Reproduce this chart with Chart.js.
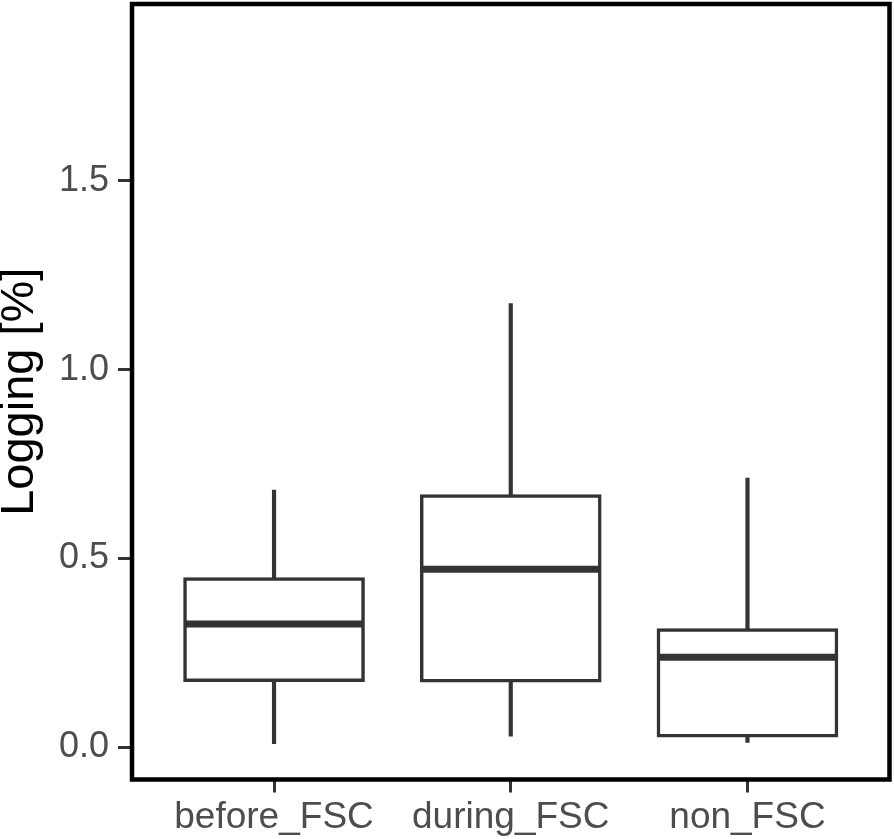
<!DOCTYPE html>
<html>
<head>
<meta charset="utf-8">
<script src="https://cdn.jsdelivr.net/npm/chart.js@4.4.1/dist/chart.umd.min.js"></script>
<style>
  body { margin: 0; background: #fff; }
  canvas { display: block; }
</style>
</head>
<body>
<canvas id="boxChart" width="894" height="839"></canvas>
<script>
// box plot stats
const categories = ['before_FSC', 'during_FSC', 'non_FSC'];
const whiskerLow = [0.009, 0.029, 0.012];
const q1 = [0.173, 0.172, 0.026];
const median = [0.326, 0.471, 0.238];
const q3 = [0.449, 0.669, 0.314];
const whiskerHigh = [0.681, 1.175, 0.713];
const yTicks = [0, 0.5, 1.0, 1.5];

const INK = '#333333';

// median bar + panel frame
const boxExtras = {
    id: 'boxExtras',
    afterDatasetsDraw(chart) {
        const ctx = chart.ctx;
        const yScale = chart.scales.y;
        const meta = chart.getDatasetMeta(0);
        ctx.save();
        ctx.strokeStyle = INK;
        ctx.lineWidth = 7;
        ctx.lineCap = 'butt';
        meta.data.forEach((bar, i) => {
            const half = bar.width / 2 - 1.5;
            const y = yScale.getPixelForValue(median[i]);
            ctx.beginPath();
            ctx.moveTo(bar.x - half, y);
            ctx.lineTo(bar.x + half, y);
            ctx.stroke();
        });
        const a = chart.chartArea;
        ctx.strokeStyle = '#000';
        ctx.lineWidth = 4.5;
        ctx.strokeRect(a.left, a.top, a.right - a.left, a.bottom - a.top);
        ctx.restore();
    }
};

const noEdgePadding = s => {
    s.paddingTop = 0;
    s.paddingBottom = 0;
    s.paddingLeft = 0;
    s.paddingRight = 0;
};

new Chart(document.getElementById('boxChart').getContext('2d'), {
    type: 'bar',
    data: {
        datasets: [
            {
                label: 'box',
                data: categories.map((c, i) => ({ x: i + 1, y: [q1[i], q3[i]] })),
                backgroundColor: '#ffffff',
                borderColor: INK,
                borderWidth: 3.5,
                borderSkipped: false,
                barThickness: 181,
                grouped: false
            },
            {
                label: 'whisker',
                data: categories.map((c, i) => ({ x: i + 1, y: [whiskerLow[i], whiskerHigh[i]] })),
                backgroundColor: INK,
                borderWidth: 0,
                barThickness: 3.5,
                grouped: false
            }
        ]
    },
    options: {
        responsive: false,
        animation: false,
        layout: { padding: { top: 4, right: 4.5, left: 0, bottom: 0 } },
        plugins: { legend: { display: false }, tooltip: { enabled: false } },
        scales: {
            x: {
                type: 'linear',
                min: 0.4,
                max: 3.6,
                offset: false,
                afterBuildTicks: s => { s.ticks = [1, 2, 3].map(v => ({ value: v })); },
                afterFit: s => { s.height = 59.5; noEdgePadding(s); },
                ticks: {
                    callback: v => categories[v - 1],
                    color: '#4d4d4d',
                    font: { family: 'Liberation Sans', size: 37 },
                    padding: 3,
                    maxRotation: 0,
                    autoSkip: false
                },
                grid: { offset: false, drawOnChartArea: false, drawTicks: true, tickLength: 13, color: INK, lineWidth: 3 },
                border: { display: false }
            },
            y: {
                min: -0.086,
                max: 1.969,
                afterBuildTicks: s => { s.ticks = yTicks.map(v => ({ value: v })); },
                afterFit: s => { s.width = 132; noEdgePadding(s); },
                ticks: {
                    callback: v => v.toFixed(1),
                    color: '#4d4d4d',
                    font: { family: 'Liberation Sans', size: 36 },
                    padding: 9
                },
                grid: { drawOnChartArea: false, drawTicks: true, tickLength: 14, color: INK, lineWidth: 3 },
                border: { display: false },
                title: {
                    display: true,
                    text: 'Logging [%]',
                    color: '#000',
                    font: { family: 'Liberation Sans', size: 47 },
                    padding: { top: -8, bottom: 0 }
                }
            }
        }
    },
    plugins: [boxExtras]
});
</script>
</body>
</html>
